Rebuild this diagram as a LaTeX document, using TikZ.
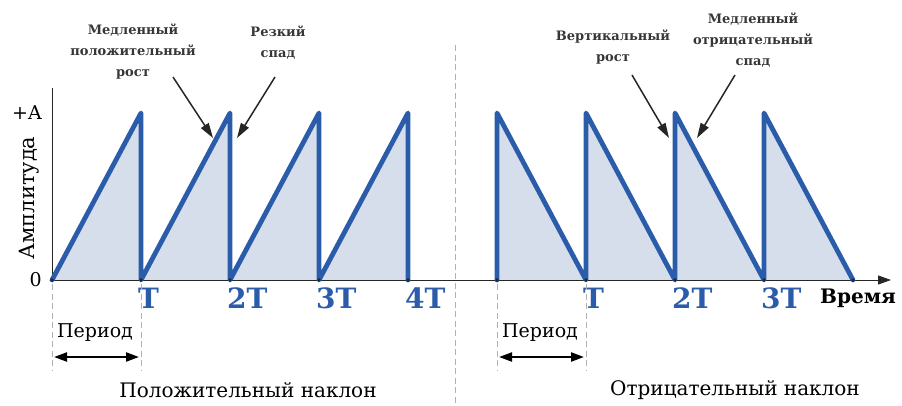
\documentclass[tikz,border=0pt]{standalone}
\usepackage{fontspec}
\setmainfont{DejaVu Serif}
\usepackage{xcolor}
\usepackage{tikz}
\usetikzlibrary{positioning,arrows.meta,calc}
\definecolor{sawblue}{HTML}{2B5CA9}
\definecolor{sawfill}{HTML}{D5DEEA}
\definecolor{sawink}{HTML}{363636}
\definecolor{sawgrid}{HTML}{B0B0B0}

\begin{document}
\begin{tikzpicture}[
  x=1pt, y=-1pt,
  >=Latex,
  wave/.style={draw=sawblue, line width=4.8pt, line join=round, line cap=round},
  wavefill/.style={fill=sawfill},
  axisline/.style={draw=black!85, line width=0.9pt},
  guide/.style={draw=sawgrid, line width=1pt, dash pattern=on 6pt off 3.5pt},
  note/.style={font=\fontsize{13}{21}\selectfont\bfseries, text=sawink, align=center, inner sep=0pt},
  tlabel/.style={font=\fontsize{28}{30}\selectfont\bfseries, text=sawblue, anchor=north west, inner sep=0pt},
  plain/.style={font=\fontsize{19}{22}\selectfont, inner sep=0pt},
  pointer/.style={-{Triangle[length=15pt,width=9pt]}, black!85, line width=1.5pt},
  span/.style={{Triangle[length=13pt,width=9pt]}-{Triangle[length=13pt,width=9pt]}, black, line width=2.2pt},
]
\useasboundingbox (0,0) rectangle (902,405);

% ---------------- filled areas under the ramps
\fill[wavefill] (52,280) -- (141,113) -- (141,280) -- (230,113) -- (230,280)
  -- (319,113) -- (319,280) -- (408,113) -- (408,280) -- cycle;
\fill[wavefill] (497,280) -- (497,113) -- (586,280) -- (586,113) -- (675,280)
  -- (675,113) -- (764,280) -- (764,113) -- (853,280) -- cycle;

% ---------------- axes
\coordinate (o) at (52,280);
\coordinate (xend) at (891,280);
\coordinate (ytop) at (52,88);
\draw[axisline] (o) -- (ytop);
\draw[axisline, -{Triangle[length=13pt,width=9pt]}] (o) -- (xend);

\draw[wave] (52,280) -- (141,113) -- (141,280) -- (230,113) -- (230,280)
  -- (319,113) -- (319,280) -- (408,113) -- (408,280);
\draw[wave] (497,280) -- (497,113) -- (586,280) -- (586,113) -- (675,280)
  -- (675,113) -- (764,280) -- (764,113) -- (853,280);

\foreach \x in {52,141,230,319,408,497,586,675,764,853}
  \fill[black!85] (\x,280) circle (1.8pt);

% ---------------- axis labels
\node[plain, anchor=east] (amax) at (42,113) {+A};
\node[plain, anchor=east] (zero) at (42,280) {0};
\node[plain, font=\fontsize{21}{24}\selectfont, rotate=90] (amp) at (29,198) {Амплитуда};
\node[font=\fontsize{20}{22}\selectfont\bfseries, anchor=north west, inner sep=0pt] (time) at (820,289) {Время};

\foreach \x/\t in {141/T, 230/2T, 319/3T, 408/4T, 586/T, 675/2T, 764/3T}
  \node[tlabel] at (\x-3,288) {\t};

% ---------------- separator
\draw[guide] (455,45) -- (455,405);

% ---------------- period marks
\foreach \x in {52,141,497,586}
  \draw[guide] (\x,284) -- (\x,370);
\coordinate (pl1) at (54,357);
\coordinate (pl2) at (139,357);
\coordinate (pr1) at (499,357);
\coordinate (pr2) at (584,357);
\draw[span] (pl1) -- (pl2);
\draw[span] (pr1) -- (pr2);
\node[plain] (perl) at (95,333) {Период};
\node[plain] (perr) at (540,333) {Период};

\node[plain, font=\fontsize{20}{22}\selectfont] (posslope) at (248,390) {Положительный наклон};
\node[plain, font=\fontsize{20}{22}\selectfont] (negslope) at (735,390) {Отрицательный наклон};

% ---------------- notes
\node[note] (n1) at (133,52) {Медленный\\положительный\\рост};
\node[note] (n2) at (278,43) {Резкий\\спад};
\node[note] (n3) at (613,47) {Вертикальный\\рост};
\node[note] (n4) at (753,40) {Медленный\\отрицательный\\спад};

\coordinate (s1) at (173,77);
\coordinate (s2) at (275,77);
\coordinate (s3) at (632,75);
\coordinate (s4) at (735,75);
\coordinate (t1) at (213,138);
\coordinate (t2) at (237,138);
\coordinate (t3) at (669,138);
\coordinate (t4) at (697,138);
\foreach \i in {1,...,4}
  \draw[pointer] (s\i) -- (t\i);

\end{tikzpicture}
\end{document}
